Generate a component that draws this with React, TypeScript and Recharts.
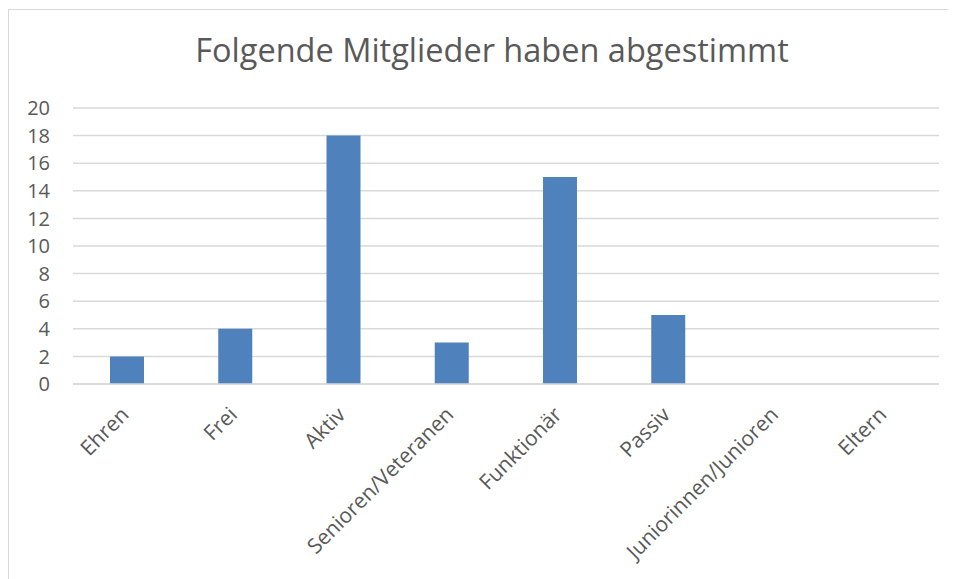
import { BarChart, Bar, XAxis, YAxis, CartesianGrid } from 'recharts'

const categories = ['Ehren', 'Frei', 'Aktiv', 'Senioren/Veteranen', 'Funktionär', 'Passiv', 'Juniorinnen/Junioren', 'Eltern']
const votes = [2, 4, 18, 3, 15, 5, 0, 0]
const yTicks = [0, 2, 4, 6, 8, 10, 12, 14, 16, 18, 20]

const data = categories.map((name, i) => ({ name, value: votes[i] }))

const FONT = '"Open Sans", "Noto Sans", sans-serif'
const TEXT = '#595959'

function AngledTick({ x, y, payload }: any) {
  const ex = x + 3
  const ey = y + 24
  return (
    <text
      x={ex}
      y={ey}
      transform={`rotate(-45, ${ex}, ${ey})`}
      textAnchor="end"
      fill={TEXT}
      fontSize={21}
      fontFamily={FONT}
    >
      {payload.value}
    </text>
  )
}

export default function App() {
  return (
    <div
      style={{
        position: 'relative',
        width: 948,
        height: 570,
        marginTop: 1,
        borderLeft: '1px solid #d9d9d9',
        borderTop: '1px solid #d9d9d9',
        background: '#fff',
      }}
    >
      <div
        style={{
          position: 'absolute',
          top: 17,
          left: 0,
          width: 966,
          textAlign: 'center',
          fontFamily: FONT,
          fontSize: 32.5,
          color: TEXT,
        }}
      >
        Folgende Mitglieder haben abgestimmt
      </div>
      <BarChart
        width={947}
        height={569}
        data={data}
        margin={{ top: 98, right: 17, bottom: 0, left: 0 }}
      >
        <CartesianGrid vertical={false} stroke="#d9d9d9" strokeWidth={1.5} />
        <XAxis
          dataKey="name"
          interval={0}
          tickLine={false}
          axisLine={{ stroke: '#d9d9d9', strokeWidth: 1.5 }}
          tick={<AngledTick />}
          height={195}
        />
        <YAxis
          width={64}
          domain={[0, 20]}
          ticks={yTicks}
          interval={0}
          axisLine={false}
          tickLine={false}
          tickSize={0}
          tickMargin={23}
          tick={{ fill: TEXT, fontSize: 20, fontFamily: FONT }}
        />
        <Bar dataKey="value" fill="#4f81bd" barSize={34} isAnimationActive={false} />
      </BarChart>
    </div>
  )
}
